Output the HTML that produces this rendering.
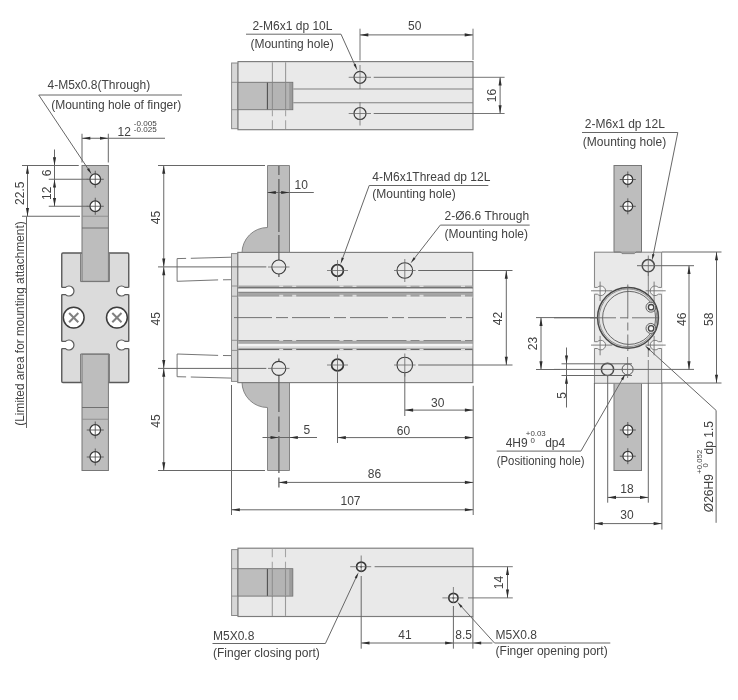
<!DOCTYPE html>
<html><head><meta charset="utf-8"><title>Dimensions</title>
<style>
html,body{margin:0;padding:0;background:#ffffff;}
body{width:738px;height:700px;overflow:hidden;font-family:"Liberation Sans",sans-serif;}
svg{display:block;filter:grayscale(1) blur(0.35px);}
svg text{font-family:"Liberation Sans",sans-serif;}
</style></head><body>
<svg width="738" height="700" viewBox="0 0 738 700">
<rect x="0" y="0" width="738" height="700" fill="#ffffff"/>
<rect x="231.6" y="63.0" width="6.40" height="65.70" fill="#d6d7d8" stroke="#8a8a8a" stroke-width="1.0"/>
<rect x="238" y="61.6" width="235.00" height="68.10" fill="#e8e9ea" stroke="#7c7c7c" stroke-width="1.15"/>
<line x1="231.6" y1="82.3" x2="238" y2="82.3" stroke="#8a8a8a" stroke-width="0.9" />
<line x1="231.6" y1="109.7" x2="238" y2="109.7" stroke="#8a8a8a" stroke-width="0.9" />
<line x1="272.4" y1="62.2" x2="272.4" y2="82.3" stroke="#9a9a9a" stroke-width="1.1" />
<line x1="272.4" y1="110.3" x2="272.4" y2="116.2" stroke="#a4a4a4" stroke-width="1.1" />
<line x1="272.4" y1="120.2" x2="272.4" y2="129.1" stroke="#a4a4a4" stroke-width="1.1" />
<line x1="285.6" y1="62.2" x2="285.6" y2="82.3" stroke="#9a9a9a" stroke-width="1.1" />
<line x1="285.6" y1="110.3" x2="285.6" y2="116.2" stroke="#a4a4a4" stroke-width="1.1" />
<line x1="285.6" y1="120.2" x2="285.6" y2="129.1" stroke="#a4a4a4" stroke-width="1.1" />
<rect x="238" y="82.3" width="54.8" height="27.40" fill="#bcbdbf"/>
<rect x="267.4" y="82.8" width="25" height="26.40" fill="#b3b4b5"/>
<rect x="289.2" y="82.8" width="3.2" height="26.40" fill="#9c9c9c"/>
<line x1="267.4" y1="82.3" x2="267.4" y2="109.7" stroke="#505050" stroke-width="1.1" />
<line x1="272.4" y1="82.89999999999999" x2="272.4" y2="109.10000000000001" stroke="#8e8e8e" stroke-width="1.1" />
<line x1="285.6" y1="82.89999999999999" x2="285.6" y2="109.10000000000001" stroke="#8e8e8e" stroke-width="1.1" />
<rect x="238" y="82.3" width="54.8" height="27.40" fill="none" stroke="#727272" stroke-width="0.9"/>
<line x1="293.3" y1="89" x2="473" y2="89" stroke="#808080" stroke-width="1.1" />
<line x1="293.3" y1="102.8" x2="473" y2="102.8" stroke="#808080" stroke-width="1.1" />
<circle cx="360" cy="77.3" r="6" fill="#e8e9ea" stroke="#3c3c3c" stroke-width="1.2"/>
<line x1="348.7" y1="77.3" x2="371" y2="77.3" stroke="#676767" stroke-width="0.8" />
<line x1="373.7" y1="77.3" x2="504.6" y2="77.3" stroke="#676767" stroke-width="0.9" />
<circle cx="360" cy="113.5" r="6" fill="#e8e9ea" stroke="#3c3c3c" stroke-width="1.2"/>
<line x1="348.7" y1="113.5" x2="371" y2="113.5" stroke="#676767" stroke-width="0.8" />
<line x1="373.7" y1="113.5" x2="504.6" y2="113.5" stroke="#676767" stroke-width="0.9" />
<line x1="360" y1="102" x2="360" y2="125.5" stroke="#676767" stroke-width="0.8" />
<line x1="360" y1="28.7" x2="360" y2="60.5" stroke="#676767" stroke-width="0.9" />
<line x1="360" y1="65" x2="360" y2="89" stroke="#676767" stroke-width="0.8" />
<line x1="473" y1="28.7" x2="473" y2="60" stroke="#676767" stroke-width="0.9" />
<line x1="360" y1="34.9" x2="473" y2="34.9" stroke="#676767" stroke-width="1.0" />
<polygon points="360.00,34.90 368.30,33.35 368.30,36.45" fill="#2e2e2e"/>
<polygon points="473.00,34.90 464.70,36.45 464.70,33.35" fill="#2e2e2e"/>
<text x="414.8" y="30" font-size="12" text-anchor="middle" fill="#424242" >50</text>
<line x1="500.1" y1="77.3" x2="500.1" y2="113.5" stroke="#676767" stroke-width="1.0" />
<polygon points="500.10,77.30 501.65,85.60 498.55,85.60" fill="#2e2e2e"/>
<polygon points="500.10,113.50 498.55,105.20 501.65,105.20" fill="#2e2e2e"/>
<text transform="translate(495.9,95.5) rotate(-90)" font-size="12" text-anchor="middle" fill="#424242" >16</text>
<text x="252.4" y="30" font-size="12" text-anchor="start" fill="#424242" >2-M6x1 dp 10L</text>
<text x="250.4" y="47.6" font-size="12" text-anchor="start" fill="#424242" >(Mounting hole)</text>
<polyline points="246,34.2 341,34.2 355.6,66.5" fill="none" stroke="#676767" stroke-width="1.0"/>
<polygon points="357.30,70.20 353.50,64.79 355.68,63.79" fill="#2e2e2e"/>
<rect x="231.6" y="549.6" width="6.40" height="65.90" fill="#d6d7d8" stroke="#8a8a8a" stroke-width="1.0"/>
<rect x="238" y="548.2" width="235.00" height="68.30" fill="#e8e9ea" stroke="#7c7c7c" stroke-width="1.15"/>
<line x1="231.6" y1="568.7" x2="238" y2="568.7" stroke="#8a8a8a" stroke-width="0.9" />
<line x1="231.6" y1="596.1" x2="238" y2="596.1" stroke="#8a8a8a" stroke-width="0.9" />
<line x1="272.3" y1="596.1" x2="272.3" y2="615.9" stroke="#9a9a9a" stroke-width="1.1" />
<line x1="272.3" y1="548.8000000000001" x2="272.3" y2="557.2" stroke="#a4a4a4" stroke-width="1.1" />
<line x1="272.3" y1="561.7" x2="272.3" y2="568.1" stroke="#a4a4a4" stroke-width="1.1" />
<line x1="285.5" y1="596.1" x2="285.5" y2="615.9" stroke="#9a9a9a" stroke-width="1.1" />
<line x1="285.5" y1="548.8000000000001" x2="285.5" y2="557.2" stroke="#a4a4a4" stroke-width="1.1" />
<line x1="285.5" y1="561.7" x2="285.5" y2="568.1" stroke="#a4a4a4" stroke-width="1.1" />
<rect x="238" y="568.7" width="54.8" height="27.40" fill="#bcbdbf"/>
<rect x="267.4" y="569.2" width="25" height="26.40" fill="#b3b4b5"/>
<rect x="289.2" y="569.2" width="3.2" height="26.40" fill="#9c9c9c"/>
<line x1="267.4" y1="568.7" x2="267.4" y2="596.1" stroke="#505050" stroke-width="1.1" />
<line x1="272.3" y1="569.3000000000001" x2="272.3" y2="595.5" stroke="#8e8e8e" stroke-width="1.1" />
<line x1="285.5" y1="569.3000000000001" x2="285.5" y2="595.5" stroke="#8e8e8e" stroke-width="1.1" />
<rect x="238" y="568.7" width="54.8" height="27.40" fill="none" stroke="#727272" stroke-width="0.9"/>
<circle cx="361.2" cy="566.7" r="4.6" fill="#f4f4f4" stroke="#333" stroke-width="1.7"/>
<circle cx="361.2" cy="566.7" r="1.0" fill="#333" stroke="none" stroke-width="0"/>
<line x1="350.2" y1="566.7" x2="371.2" y2="566.7" stroke="#676767" stroke-width="0.8" />
<circle cx="453.4" cy="597.9" r="4.6" fill="#f4f4f4" stroke="#333" stroke-width="1.7"/>
<circle cx="453.4" cy="597.9" r="1.0" fill="#333" stroke="none" stroke-width="0"/>
<line x1="442.4" y1="597.9" x2="463.4" y2="597.9" stroke="#676767" stroke-width="0.8" />
<line x1="361.2" y1="555.5" x2="361.2" y2="572" stroke="#676767" stroke-width="0.8" />
<line x1="453.4" y1="587" x2="453.4" y2="603" stroke="#676767" stroke-width="0.8" />
<line x1="374.6" y1="566.7" x2="512.8" y2="566.7" stroke="#676767" stroke-width="0.9" />
<line x1="468" y1="597.9" x2="512.8" y2="597.9" stroke="#676767" stroke-width="0.9" />
<line x1="361.2" y1="576" x2="361.2" y2="648.7" stroke="#676767" stroke-width="1.0" />
<line x1="453.4" y1="606" x2="453.4" y2="648.7" stroke="#676767" stroke-width="1.0" />
<line x1="472.9" y1="617" x2="472.9" y2="648.7" stroke="#676767" stroke-width="1.0" />
<line x1="361.2" y1="643" x2="453.4" y2="643" stroke="#676767" stroke-width="1.0" />
<polygon points="361.20,643.00 369.50,641.45 369.50,644.55" fill="#2e2e2e"/>
<polygon points="453.40,643.00 445.10,644.55 445.10,641.45" fill="#2e2e2e"/>
<line x1="453.4" y1="643" x2="492.4" y2="643" stroke="#676767" stroke-width="1.0" />
<polygon points="472.90,643.00 481.20,641.45 481.20,644.55" fill="#2e2e2e"/>
<text x="405" y="638.9" font-size="12" text-anchor="middle" fill="#424242" >41</text>
<text x="463.6" y="638.9" font-size="12" text-anchor="middle" fill="#424242" >8.5</text>
<line x1="507.5" y1="566.7" x2="507.5" y2="597.9" stroke="#676767" stroke-width="1.0" />
<polygon points="507.50,566.70 509.05,575.00 505.95,575.00" fill="#2e2e2e"/>
<polygon points="507.50,597.90 505.95,589.60 509.05,589.60" fill="#2e2e2e"/>
<text transform="translate(503,582.6) rotate(-90)" font-size="12" text-anchor="middle" fill="#424242" >14</text>
<text x="213" y="639.7" font-size="12" text-anchor="start" fill="#424242" >M5X0.8</text>
<text x="213" y="657.2" font-size="12" text-anchor="start" fill="#424242" >(Finger closing port)</text>
<polyline points="212.5,643.5 325.4,643.5 357,575.5" fill="none" stroke="#676767" stroke-width="1.0"/>
<polygon points="358.60,572.20 356.84,578.57 354.68,577.53" fill="#2e2e2e"/>
<text x="495.6" y="639.1" font-size="12" text-anchor="start" fill="#424242" >M5X0.8</text>
<text x="495.6" y="655" font-size="12" text-anchor="start" fill="#424242" >(Finger opening port)</text>
<polyline points="610.3,643 494.5,643 460,605" fill="none" stroke="#676767" stroke-width="1.0"/>
<polygon points="457.40,602.00 462.56,606.13 460.75,607.70" fill="#2e2e2e"/>
<rect x="61.75" y="253" width="67" height="129.5" rx="1.2" fill="#d9dbdc" stroke="#5a5a5a" stroke-width="1.4"/>
<path d="M60.5,287.4 L65.5,287.4 A5,5 0 1 1 65.5,294.6 L60.5,294.6 Z" fill="#ffffff"/>
<path d="M61.75,287.4 L65.5,287.4 A5,5 0 1 1 65.5,294.6 L61.75,294.6" fill="none" stroke="#5a5a5a" stroke-width="1.2"/>
<path d="M130,287.4 L125,287.4 A5,5 0 1 0 125,294.6 L130,294.6 Z" fill="#ffffff"/>
<path d="M128.75,287.4 L125,287.4 A5,5 0 1 0 125,294.6 L128.75,294.6" fill="none" stroke="#5a5a5a" stroke-width="1.2"/>
<path d="M60.5,341.4 L65.5,341.4 A5,5 0 1 1 65.5,348.6 L60.5,348.6 Z" fill="#ffffff"/>
<path d="M61.75,341.4 L65.5,341.4 A5,5 0 1 1 65.5,348.6 L61.75,348.6" fill="none" stroke="#5a5a5a" stroke-width="1.2"/>
<path d="M130,341.4 L125,341.4 A5,5 0 1 0 125,348.6 L130,348.6 Z" fill="#ffffff"/>
<path d="M128.75,341.4 L125,341.4 A5,5 0 1 0 125,348.6 L128.75,348.6" fill="none" stroke="#5a5a5a" stroke-width="1.2"/>
<rect x="82" y="165.5" width="26.40" height="115.80" fill="#bcbdbf" stroke="#777" stroke-width="1"/>
<line x1="82" y1="216.25" x2="108.4" y2="216.25" stroke="#8c8c8c" stroke-width="0.9" />
<line x1="82" y1="228" x2="108.4" y2="228" stroke="#686868" stroke-width="0.9" />
<rect x="82" y="354.2" width="26.40" height="116.30" fill="#bcbdbf" stroke="#777" stroke-width="1"/>
<line x1="82" y1="407.5" x2="108.4" y2="407.5" stroke="#686868" stroke-width="0.9" />
<line x1="82" y1="419.25" x2="108.4" y2="419.25" stroke="#8c8c8c" stroke-width="0.9" />
<polyline points="80.6,253 80.6,281.6 109.4,281.6 109.4,253" fill="none" stroke="#777" stroke-width="1"/>
<polyline points="80.6,382.5 80.6,354 109.4,354 109.4,382.5" fill="none" stroke="#777" stroke-width="1"/>
<circle cx="73.7" cy="317.6" r="10.4" fill="#ffffff" stroke="#3c3c3c" stroke-width="1.5"/>
<line x1="69.10000000000001" y1="313.0" x2="78.3" y2="322.20000000000005" stroke="#808080" stroke-width="2.0" />
<line x1="69.10000000000001" y1="322.20000000000005" x2="78.3" y2="313.0" stroke="#808080" stroke-width="2.0" />
<circle cx="116.9" cy="317.6" r="10.4" fill="#ffffff" stroke="#3c3c3c" stroke-width="1.5"/>
<line x1="112.30000000000001" y1="313.0" x2="121.5" y2="322.20000000000005" stroke="#808080" stroke-width="2.0" />
<line x1="112.30000000000001" y1="322.20000000000005" x2="121.5" y2="313.0" stroke="#808080" stroke-width="2.0" />
<circle cx="95.25" cy="179.25" r="5.3" fill="#ffffff" stroke="#333" stroke-width="1.2"/>
<line x1="86.75" y1="179.25" x2="103.75" y2="179.25" stroke="#444" stroke-width="0.8" />
<line x1="95.25" y1="170.75" x2="95.25" y2="187.75" stroke="#444" stroke-width="0.8" />
<circle cx="95.25" cy="206.25" r="5.3" fill="#ffffff" stroke="#333" stroke-width="1.2"/>
<line x1="86.75" y1="206.25" x2="103.75" y2="206.25" stroke="#444" stroke-width="0.8" />
<line x1="95.25" y1="197.75" x2="95.25" y2="214.75" stroke="#444" stroke-width="0.8" />
<circle cx="95.25" cy="430" r="5.3" fill="#ffffff" stroke="#333" stroke-width="1.2"/>
<line x1="86.75" y1="430" x2="103.75" y2="430" stroke="#444" stroke-width="0.8" />
<line x1="95.25" y1="421.5" x2="95.25" y2="438.5" stroke="#444" stroke-width="0.8" />
<circle cx="95.25" cy="457" r="5.3" fill="#ffffff" stroke="#333" stroke-width="1.2"/>
<line x1="86.75" y1="457" x2="103.75" y2="457" stroke="#444" stroke-width="0.8" />
<line x1="95.25" y1="448.5" x2="95.25" y2="465.5" stroke="#444" stroke-width="0.8" />
<text x="47.5" y="88.8" font-size="12" text-anchor="start" fill="#424242" >4-M5x0.8(Through)</text>
<text x="51.2" y="108.8" font-size="12" text-anchor="start" fill="#424242" >(Mounting hole of finger)</text>
<polyline points="182,95 38.75,95 89.5,171" fill="none" stroke="#676767" stroke-width="1.0"/>
<polygon points="91.60,174.20 87.03,169.42 89.04,168.11" fill="#2e2e2e"/>
<line x1="82" y1="133.75" x2="82" y2="162.5" stroke="#676767" stroke-width="1.0" />
<line x1="108.3" y1="133.75" x2="108.3" y2="162.5" stroke="#676767" stroke-width="1.0" />
<line x1="82" y1="138.25" x2="165" y2="138.25" stroke="#676767" stroke-width="1.0" />
<polygon points="82.00,138.25 90.30,136.70 90.30,139.80" fill="#2e2e2e"/>
<polygon points="108.30,138.25 100.00,139.80 100.00,136.70" fill="#2e2e2e"/>
<text x="117.5" y="136.3" font-size="12" text-anchor="start" fill="#424242" >12</text>
<text x="133.8" y="125.6" font-size="8.1" text-anchor="start" fill="#424242" >-0.005</text>
<text x="133.8" y="131.9" font-size="8.1" text-anchor="start" fill="#424242" >-0.025</text>
<line x1="22" y1="165.5" x2="78.75" y2="165.5" stroke="#676767" stroke-width="1.0" />
<line x1="22" y1="216.25" x2="80" y2="216.25" stroke="#676767" stroke-width="1.0" />
<line x1="27.5" y1="165.5" x2="27.5" y2="216.25" stroke="#676767" stroke-width="1.0" />
<polygon points="27.50,165.50 29.05,173.80 25.95,173.80" fill="#2e2e2e"/>
<polygon points="27.50,216.25 25.95,207.95 29.05,207.95" fill="#2e2e2e"/>
<text transform="translate(24.3,193.3) rotate(-90)" font-size="12" text-anchor="middle" fill="#424242" >22.5</text>
<line x1="54.5" y1="149.5" x2="54.5" y2="206.25" stroke="#676767" stroke-width="1.0" />
<polygon points="54.50,165.50 52.95,157.20 56.05,157.20" fill="#2e2e2e"/>
<polygon points="54.50,179.25 56.05,187.55 52.95,187.55" fill="#2e2e2e"/>
<polygon points="54.50,206.25 52.95,197.95 56.05,197.95" fill="#2e2e2e"/>
<line x1="48.75" y1="179.25" x2="87.5" y2="179.25" stroke="#676767" stroke-width="1.0" />
<line x1="48.75" y1="206.25" x2="87.5" y2="206.25" stroke="#676767" stroke-width="1.0" />
<text transform="translate(51,173) rotate(-90)" font-size="12" text-anchor="middle" fill="#424242" >6</text>
<text transform="translate(51,193.3) rotate(-90)" font-size="12" text-anchor="middle" fill="#424242" >12</text>
<text transform="translate(23.6,323.5) rotate(-90)" font-size="12" text-anchor="middle" fill="#424242" textLength="204.4" lengthAdjust="spacingAndGlyphs">(Limited area for mounting attachment)</text>
<line x1="26.5" y1="216.5" x2="26.5" y2="428" stroke="#676767" stroke-width="1.0" />
<line x1="158" y1="165.5" x2="265" y2="165.5" stroke="#676767" stroke-width="1.0" />
<line x1="158" y1="470.5" x2="265" y2="470.5" stroke="#676767" stroke-width="1.0" />
<line x1="163.75" y1="165.5" x2="163.75" y2="470.5" stroke="#676767" stroke-width="1.0" />
<polygon points="163.75,165.50 165.30,173.80 162.20,173.80" fill="#2e2e2e"/>
<polygon points="163.75,266.90 162.20,258.60 165.30,258.60" fill="#2e2e2e"/>
<polygon points="163.75,266.90 165.30,275.20 162.20,275.20" fill="#2e2e2e"/>
<polygon points="163.75,368.40 162.20,360.10 165.30,360.10" fill="#2e2e2e"/>
<polygon points="163.75,368.40 165.30,376.70 162.20,376.70" fill="#2e2e2e"/>
<polygon points="163.75,470.50 162.20,462.20 165.30,462.20" fill="#2e2e2e"/>
<text transform="translate(160,217.5) rotate(-90)" font-size="12" text-anchor="middle" fill="#424242" >45</text>
<text transform="translate(160,318.8) rotate(-90)" font-size="12" text-anchor="middle" fill="#424242" >45</text>
<text transform="translate(160,421) rotate(-90)" font-size="12" text-anchor="middle" fill="#424242" >45</text>
<path d="M267.5,165.5 H289.5 V253 H242 A25.5,25.5 0 0 1 267.5,227.5 Z" fill="#bcbdbf" stroke="#858585" stroke-width="1"/>
<path d="M242,382 A25.5,25.5 0 0 0 267.5,407.5 V470.5 H289.5 V382 Z" fill="#bcbdbf" stroke="#858585" stroke-width="1"/>
<polyline points="186.1,258.40 177.1,258.60 177.1,281.30 218.1,279.90" fill="none" stroke="#666" stroke-width="0.9"/>
<line x1="190.8" y1="258.3" x2="231.3" y2="257.2" stroke="#666" stroke-width="0.9" />
<line x1="223" y1="279.8" x2="231.3" y2="279.7" stroke="#666" stroke-width="0.9" />
<polyline points="186.1,376.90 177.1,376.70 177.1,354.00 218.1,355.40" fill="none" stroke="#666" stroke-width="0.9"/>
<line x1="190.8" y1="377.0" x2="231.3" y2="378.1" stroke="#666" stroke-width="0.9" />
<line x1="223" y1="355.5" x2="231.3" y2="355.6" stroke="#666" stroke-width="0.9" />
<rect x="231.5" y="253.6" width="6.30" height="127.80" fill="#d6d7d8" stroke="#8a8a8a" stroke-width="1.0"/>
<rect x="237.8" y="252.4" width="235.00" height="130.20" fill="#e8e9ea" stroke="#7c7c7c" stroke-width="1.15"/>
<line x1="231.5" y1="286" x2="237.8" y2="286" stroke="#8a8a8a" stroke-width="0.9" />
<line x1="231.5" y1="296.2" x2="237.8" y2="296.2" stroke="#8a8a8a" stroke-width="0.9" />
<line x1="231.5" y1="340.3" x2="237.8" y2="340.3" stroke="#8a8a8a" stroke-width="0.9" />
<line x1="231.5" y1="350.4" x2="237.8" y2="350.4" stroke="#8a8a8a" stroke-width="0.9" />
<rect x="238.3" y="285.5" width="234.2" height="1.70" fill="#a9a9a9"/>
<rect x="279.2" y="285.4" width="4" height="1.90" fill="#dcdcdc"/>
<rect x="292.2" y="285.4" width="4" height="1.90" fill="#dcdcdc"/>
<rect x="339.5" y="285.4" width="4" height="1.90" fill="#dcdcdc"/>
<rect x="352.5" y="285.4" width="4" height="1.90" fill="#dcdcdc"/>
<rect x="406.5" y="285.4" width="4" height="1.90" fill="#dcdcdc"/>
<rect x="419.5" y="285.4" width="4" height="1.90" fill="#dcdcdc"/>
<rect x="461" y="285.4" width="4" height="1.90" fill="#dcdcdc"/>
<rect x="238.3" y="287.2" width="234.2" height="1.40" fill="#5a5a5a"/>
<rect x="238.3" y="288.6" width="234.2" height="3.20" fill="#f1f1f1"/>
<rect x="238.3" y="291.8" width="234.2" height="1.10" fill="#7a7a7a"/>
<rect x="238.3" y="292.9" width="234.2" height="3.80" fill="#a6a6a6"/>
<rect x="238.3" y="294.9" width="234.2" height="1.80" fill="#a0a0a0"/>
<rect x="279.2" y="294.79999999999995" width="4" height="2.00" fill="#dcdcdc"/>
<rect x="292.2" y="294.79999999999995" width="4" height="2.00" fill="#dcdcdc"/>
<rect x="339.5" y="294.79999999999995" width="4" height="2.00" fill="#dcdcdc"/>
<rect x="352.5" y="294.79999999999995" width="4" height="2.00" fill="#dcdcdc"/>
<rect x="406.5" y="294.79999999999995" width="4" height="2.00" fill="#dcdcdc"/>
<rect x="419.5" y="294.79999999999995" width="4" height="2.00" fill="#dcdcdc"/>
<rect x="461" y="294.79999999999995" width="4" height="2.00" fill="#dcdcdc"/>
<rect x="238.3" y="296.7" width="234.2" height="0.90" fill="#efefef"/>
<rect x="238.3" y="340.0" width="234.2" height="0.90" fill="#777"/>
<rect x="279.2" y="339.9" width="4" height="1.10" fill="#dcdcdc"/>
<rect x="292.2" y="339.9" width="4" height="1.10" fill="#dcdcdc"/>
<rect x="339.5" y="339.9" width="4" height="1.10" fill="#dcdcdc"/>
<rect x="352.5" y="339.9" width="4" height="1.10" fill="#dcdcdc"/>
<rect x="406.5" y="339.9" width="4" height="1.10" fill="#dcdcdc"/>
<rect x="419.5" y="339.9" width="4" height="1.10" fill="#dcdcdc"/>
<rect x="461" y="339.9" width="4" height="1.10" fill="#dcdcdc"/>
<rect x="238.3" y="340.9" width="234.2" height="3.00" fill="#a8a8a8"/>
<rect x="238.3" y="343.9" width="234.2" height="2.30" fill="#f3f3f3"/>
<rect x="238.3" y="346.2" width="234.2" height="1.70" fill="#dedede"/>
<rect x="238.3" y="347.9" width="234.2" height="1.10" fill="#aaaaaa"/>
<rect x="238.3" y="349.0" width="234.2" height="1.10" fill="#666"/>
<rect x="279.2" y="348.9" width="4" height="1.30" fill="#dcdcdc"/>
<rect x="292.2" y="348.9" width="4" height="1.30" fill="#dcdcdc"/>
<rect x="339.5" y="348.9" width="4" height="1.30" fill="#dcdcdc"/>
<rect x="352.5" y="348.9" width="4" height="1.30" fill="#dcdcdc"/>
<rect x="406.5" y="348.9" width="4" height="1.30" fill="#dcdcdc"/>
<rect x="419.5" y="348.9" width="4" height="1.30" fill="#dcdcdc"/>
<rect x="461" y="348.9" width="4" height="1.30" fill="#dcdcdc"/>
<line x1="234" y1="317.6" x2="473" y2="317.6" stroke="#676767" stroke-width="0.9" stroke-dasharray="38 4 12 4" />
<line x1="278.9" y1="166" x2="278.9" y2="175" stroke="#606060" stroke-width="1.3" />
<line x1="278.9" y1="179" x2="278.9" y2="232" stroke="#606060" stroke-width="1.3" />
<line x1="278.9" y1="235" x2="278.9" y2="277" stroke="#606060" stroke-width="1.3" />
<line x1="278.9" y1="358.5" x2="278.9" y2="412" stroke="#606060" stroke-width="1.3" />
<line x1="278.9" y1="416.5" x2="278.9" y2="432" stroke="#606060" stroke-width="1.3" />
<line x1="278.9" y1="436" x2="278.9" y2="473" stroke="#606060" stroke-width="1.3" />
<line x1="278.9" y1="477.5" x2="278.9" y2="487.5" stroke="#606060" stroke-width="1.3" />
<line x1="158" y1="266.9" x2="266.3" y2="266.9" stroke="#676767" stroke-width="1.0" />
<line x1="158" y1="368.4" x2="266.3" y2="368.4" stroke="#676767" stroke-width="1.0" />
<circle cx="278.8" cy="267" r="7" fill="#e8e9ea" stroke="#3c3c3c" stroke-width="1.1"/>
<line x1="268" y1="267" x2="289.5" y2="267" stroke="#676767" stroke-width="0.8" />
<circle cx="278.8" cy="368.4" r="7" fill="#e8e9ea" stroke="#3c3c3c" stroke-width="1.1"/>
<line x1="268" y1="368.4" x2="289.5" y2="368.4" stroke="#676767" stroke-width="0.8" />
<circle cx="337.5" cy="270.5" r="5.9" fill="#e8e9ea" stroke="#333" stroke-width="1.7"/>
<line x1="327.0" y1="270.5" x2="348.0" y2="270.5" stroke="#676767" stroke-width="0.8" />
<line x1="337.5" y1="260.0" x2="337.5" y2="281.0" stroke="#676767" stroke-width="0.8" />
<circle cx="404.8" cy="270.5" r="7.8" fill="#e8e9ea" stroke="#3c3c3c" stroke-width="1.1"/>
<line x1="394.0" y1="270.5" x2="415.6" y2="270.5" stroke="#676767" stroke-width="0.8" />
<line x1="404.8" y1="259.0" x2="404.8" y2="282.0" stroke="#676767" stroke-width="0.8" />
<line x1="418.2" y1="270.5" x2="512.5" y2="270.5" stroke="#676767" stroke-width="1.0" />
<circle cx="337.5" cy="365" r="5.9" fill="#e8e9ea" stroke="#333" stroke-width="1.7"/>
<line x1="327.0" y1="365" x2="348.0" y2="365" stroke="#676767" stroke-width="0.8" />
<line x1="337.5" y1="354.5" x2="337.5" y2="375.5" stroke="#676767" stroke-width="0.8" />
<circle cx="404.8" cy="365" r="7.8" fill="#e8e9ea" stroke="#3c3c3c" stroke-width="1.1"/>
<line x1="394.0" y1="365" x2="415.6" y2="365" stroke="#676767" stroke-width="0.8" />
<line x1="404.8" y1="353.5" x2="404.8" y2="376.5" stroke="#676767" stroke-width="0.8" />
<line x1="418.2" y1="365" x2="512.5" y2="365" stroke="#676767" stroke-width="1.0" />
<line x1="267.5" y1="192.5" x2="313.8" y2="192.5" stroke="#676767" stroke-width="1.0" />
<polygon points="267.50,192.50 275.80,190.95 275.80,194.05" fill="#2e2e2e"/>
<polygon points="289.50,192.50 281.20,194.05 281.20,190.95" fill="#2e2e2e"/>
<text x="294.5" y="188.8" font-size="12" text-anchor="start" fill="#424242" >10</text>
<line x1="262.5" y1="437.5" x2="317" y2="437.5" stroke="#676767" stroke-width="1.0" />
<polygon points="278.80,437.50 270.50,439.05 270.50,435.95" fill="#2e2e2e"/>
<polygon points="289.50,437.50 297.80,435.95 297.80,439.05" fill="#2e2e2e"/>
<text x="303.5" y="433.8" font-size="12" text-anchor="start" fill="#424242" >5</text>
<line x1="231.5" y1="385" x2="231.5" y2="515" stroke="#676767" stroke-width="1.0" />
<line x1="473.2" y1="385.8" x2="473.2" y2="515" stroke="#676767" stroke-width="1.0" />
<line x1="404.8" y1="372.5" x2="404.8" y2="416" stroke="#676767" stroke-width="1.0" />
<line x1="337.5" y1="372.5" x2="337.5" y2="443" stroke="#676767" stroke-width="1.0" />
<line x1="404.8" y1="410.1" x2="473.2" y2="410.1" stroke="#676767" stroke-width="1.0" />
<polygon points="404.80,410.10 413.10,408.55 413.10,411.65" fill="#2e2e2e"/>
<polygon points="473.20,410.10 464.90,411.65 464.90,408.55" fill="#2e2e2e"/>
<text x="437.8" y="407" font-size="12" text-anchor="middle" fill="#424242" >30</text>
<line x1="337.5" y1="437.6" x2="473.2" y2="437.6" stroke="#676767" stroke-width="1.0" />
<polygon points="337.50,437.60 345.80,436.05 345.80,439.15" fill="#2e2e2e"/>
<polygon points="473.20,437.60 464.90,439.15 464.90,436.05" fill="#2e2e2e"/>
<text x="403.5" y="434.8" font-size="12" text-anchor="middle" fill="#424242" >60</text>
<line x1="278.8" y1="482.4" x2="473.2" y2="482.4" stroke="#676767" stroke-width="1.0" />
<polygon points="278.80,482.40 287.10,480.85 287.10,483.95" fill="#2e2e2e"/>
<polygon points="473.20,482.40 464.90,483.95 464.90,480.85" fill="#2e2e2e"/>
<text x="374.5" y="477.8" font-size="12" text-anchor="middle" fill="#424242" >86</text>
<line x1="231.5" y1="509.8" x2="473.2" y2="509.8" stroke="#676767" stroke-width="1.0" />
<polygon points="231.50,509.80 239.80,508.25 239.80,511.35" fill="#2e2e2e"/>
<polygon points="473.20,509.80 464.90,511.35 464.90,508.25" fill="#2e2e2e"/>
<text x="350.5" y="504.9" font-size="12" text-anchor="middle" fill="#424242" >107</text>
<line x1="506.3" y1="270.5" x2="506.3" y2="365" stroke="#676767" stroke-width="1.0" />
<polygon points="506.30,270.50 507.85,278.80 504.75,278.80" fill="#2e2e2e"/>
<polygon points="506.30,365.00 504.75,356.70 507.85,356.70" fill="#2e2e2e"/>
<text transform="translate(502,318.5) rotate(-90)" font-size="12" text-anchor="middle" fill="#424242" >42</text>
<text x="372.3" y="181.2" font-size="12" text-anchor="start" fill="#424242" >4-M6x1Thread dp 12L</text>
<text x="372.3" y="198.4" font-size="12" text-anchor="start" fill="#424242" >(Mounting hole)</text>
<polyline points="488.3,185.5 369.2,185.5 342.2,259.5" fill="none" stroke="#676767" stroke-width="1.0"/>
<polygon points="340.60,264.00 341.65,257.47 343.91,258.28" fill="#2e2e2e"/>
<text x="444.6" y="220.1" font-size="12" text-anchor="start" fill="#424242" >2-Ø6.6 Through</text>
<text x="444.6" y="238" font-size="12" text-anchor="start" fill="#424242" >(Mounting hole)</text>
<polyline points="529.7,225.1 440.3,225.1 413.5,259.5" fill="none" stroke="#676767" stroke-width="1.0"/>
<polygon points="410.60,263.20 413.67,257.34 415.55,258.82" fill="#2e2e2e"/>
<rect x="614" y="165.5" width="27.50" height="87.50" fill="#bcbdbf" stroke="#777" stroke-width="1"/>
<rect x="614" y="382" width="27.50" height="88.50" fill="#bcbdbf" stroke="#777" stroke-width="1"/>
<rect x="594.5" y="252.2" width="67.10" height="131.10" fill="#e8e9ea" stroke="#8a8a8a" stroke-width="1.1"/>
<path d="M614,252 L620.5,252 L622,253.6 L634.5,253.6 L636,252 L641.5,252" fill="none" stroke="#777" stroke-width="0.9"/>
<line x1="594.4" y1="383" x2="594.4" y2="529.6" stroke="#676767" stroke-width="1.0" />
<line x1="661.9" y1="383" x2="661.9" y2="529.6" stroke="#676767" stroke-width="1.0" />
<line x1="607.7" y1="376" x2="607.7" y2="502.7" stroke="#676767" stroke-width="1.0" />
<line x1="648.3" y1="383" x2="648.3" y2="502.7" stroke="#676767" stroke-width="1.0" />
<line x1="648.3" y1="272" x2="648.3" y2="383" stroke="#676767" stroke-width="0.8" stroke-dasharray="30 3 8 3" />
<path d="M593.4,287.40000000000003 L597.4,287.40000000000003 A4.8,4.8 0 1 1 597.4,294.2 L593.4,294.2 Z" fill="#f6f6f6"/>
<path d="M594.5,287.40000000000003 L597.4,287.40000000000003 A4.8,4.8 0 1 1 597.4,294.2 L594.5,294.2" fill="none" stroke="#808080" stroke-width="1.0"/>
<line x1="600.1" y1="281.6" x2="600.1" y2="301.0" stroke="#707070" stroke-width="0.9" />
<line x1="591" y1="290.8" x2="612.3" y2="290.8" stroke="#707070" stroke-width="0.9" />
<path d="M662.7,287.40000000000003 L658.4,287.40000000000003 A4.8,4.8 0 1 0 658.4,294.2 L662.7,294.2 Z" fill="#f6f6f6"/>
<path d="M661.6,287.40000000000003 L658.4,287.40000000000003 A4.8,4.8 0 1 0 658.4,294.2 L661.6,294.2" fill="none" stroke="#808080" stroke-width="1.0"/>
<line x1="654.1" y1="281.6" x2="654.1" y2="301.0" stroke="#707070" stroke-width="0.9" />
<line x1="645.6" y1="290.8" x2="665.7" y2="290.8" stroke="#707070" stroke-width="0.9" />
<path d="M593.4,341.70000000000005 L597.4,341.70000000000005 A4.8,4.8 0 1 1 597.4,348.5 L593.4,348.5 Z" fill="#f6f6f6"/>
<path d="M594.5,341.70000000000005 L597.4,341.70000000000005 A4.8,4.8 0 1 1 597.4,348.5 L594.5,348.5" fill="none" stroke="#808080" stroke-width="1.0"/>
<line x1="600.1" y1="335.90000000000003" x2="600.1" y2="355.3" stroke="#707070" stroke-width="0.9" />
<line x1="591" y1="345.1" x2="612.3" y2="345.1" stroke="#707070" stroke-width="0.9" />
<path d="M662.7,341.70000000000005 L658.4,341.70000000000005 A4.8,4.8 0 1 0 658.4,348.5 L662.7,348.5 Z" fill="#f6f6f6"/>
<path d="M661.6,341.70000000000005 L658.4,341.70000000000005 A4.8,4.8 0 1 0 658.4,348.5 L661.6,348.5" fill="none" stroke="#808080" stroke-width="1.0"/>
<line x1="654.1" y1="335.90000000000003" x2="654.1" y2="355.3" stroke="#707070" stroke-width="0.9" />
<line x1="645.6" y1="345.1" x2="665.7" y2="345.1" stroke="#707070" stroke-width="0.9" />
<line x1="554" y1="317.8" x2="597" y2="317.8" stroke="#676767" stroke-width="1.0" />
<circle cx="628.0" cy="317.8" r="30.4" fill="#e3e4e5" stroke="#484848" stroke-width="1.5"/>
<circle cx="628.0" cy="317.8" r="28.9" fill="none" stroke="#7a7a7a" stroke-width="0.8"/>
<circle cx="629.1" cy="317.9" r="26.5" fill="#e8e9ea" stroke="#5a5a5a" stroke-width="0.9"/>
<line x1="590" y1="317.8" x2="661" y2="317.8" stroke="#676767" stroke-width="0.9" stroke-dasharray="26 4 8 4" />
<line x1="627.8" y1="284.5" x2="627.8" y2="351" stroke="#676767" stroke-width="0.9" stroke-dasharray="34 4 8 4" />
<ellipse cx="650.8" cy="307.2" rx="4.8" ry="5.0" fill="#e8e9ea" stroke="#555" stroke-width="0.9"/>
<circle cx="651.1" cy="307.2" r="2.7" fill="#f6f6f6" stroke="#444" stroke-width="1.3"/>
<ellipse cx="650.8" cy="328.4" rx="4.8" ry="5.0" fill="#e8e9ea" stroke="#555" stroke-width="0.9"/>
<circle cx="651.1" cy="328.4" r="2.7" fill="#f6f6f6" stroke="#444" stroke-width="1.3"/>
<circle cx="648.3" cy="265.7" r="6.1" fill="#e8e9ea" stroke="#4a4a4a" stroke-width="1.5"/>
<line x1="637" y1="265.7" x2="694" y2="265.7" stroke="#676767" stroke-width="1.0" />
<line x1="648.3" y1="255.5" x2="648.3" y2="276" stroke="#676767" stroke-width="0.8" />
<circle cx="607.5" cy="369.4" r="6.1" fill="#e8e9ea" stroke="#4a4a4a" stroke-width="1.5"/>
<circle cx="627.6" cy="369.4" r="5.5" fill="#ececec" stroke="#555" stroke-width="1.0"/>
<line x1="554" y1="369.4" x2="694" y2="369.4" stroke="#676767" stroke-width="1.0" />
<line x1="627.6" y1="357" x2="627.6" y2="378" stroke="#676767" stroke-width="0.8" />
<line x1="561.5" y1="363.8" x2="632" y2="363.8" stroke="#676767" stroke-width="1.0" />
<line x1="561.5" y1="375.5" x2="632" y2="375.5" stroke="#676767" stroke-width="1.0" />
<circle cx="627.8" cy="179.5" r="4.9" fill="#ffffff" stroke="#333" stroke-width="1.2"/>
<line x1="619.8" y1="179.5" x2="635.8" y2="179.5" stroke="#444" stroke-width="0.8" />
<line x1="627.8" y1="171.5" x2="627.8" y2="187.5" stroke="#444" stroke-width="0.8" />
<circle cx="627.8" cy="206.3" r="4.9" fill="#ffffff" stroke="#333" stroke-width="1.2"/>
<line x1="619.8" y1="206.3" x2="635.8" y2="206.3" stroke="#444" stroke-width="0.8" />
<line x1="627.8" y1="198.3" x2="627.8" y2="214.3" stroke="#444" stroke-width="0.8" />
<circle cx="627.8" cy="430" r="4.9" fill="#ffffff" stroke="#333" stroke-width="1.2"/>
<line x1="619.8" y1="430" x2="635.8" y2="430" stroke="#444" stroke-width="0.8" />
<line x1="627.8" y1="422" x2="627.8" y2="438" stroke="#444" stroke-width="0.8" />
<circle cx="627.8" cy="456.2" r="4.9" fill="#ffffff" stroke="#333" stroke-width="1.2"/>
<line x1="619.8" y1="456.2" x2="635.8" y2="456.2" stroke="#444" stroke-width="0.8" />
<line x1="627.8" y1="448.2" x2="627.8" y2="464.2" stroke="#444" stroke-width="0.8" />
<line x1="662" y1="252" x2="721.5" y2="252" stroke="#676767" stroke-width="1.0" />
<line x1="662" y1="383" x2="721.5" y2="383" stroke="#676767" stroke-width="1.0" />
<line x1="716.5" y1="252" x2="716.5" y2="383" stroke="#676767" stroke-width="1.0" />
<polygon points="716.50,252.00 718.05,260.30 714.95,260.30" fill="#2e2e2e"/>
<polygon points="716.50,383.00 714.95,374.70 718.05,374.70" fill="#2e2e2e"/>
<text transform="translate(712.5,319.3) rotate(-90)" font-size="12" text-anchor="middle" fill="#424242" >58</text>
<line x1="689" y1="265.8" x2="689" y2="369.5" stroke="#676767" stroke-width="1.0" />
<polygon points="689.00,265.80 690.55,274.10 687.45,274.10" fill="#2e2e2e"/>
<polygon points="689.00,369.50 687.45,361.20 690.55,361.20" fill="#2e2e2e"/>
<text transform="translate(685.5,319.3) rotate(-90)" font-size="12" text-anchor="middle" fill="#424242" >46</text>
<line x1="536" y1="317.6" x2="597" y2="317.6" stroke="#676767" stroke-width="1.0" />
<line x1="541" y1="317.6" x2="541" y2="369.5" stroke="#676767" stroke-width="1.0" />
<polygon points="541.00,317.60 542.55,325.90 539.45,325.90" fill="#2e2e2e"/>
<polygon points="541.00,369.50 539.45,361.20 542.55,361.20" fill="#2e2e2e"/>
<text transform="translate(537,343.5) rotate(-90)" font-size="12" text-anchor="middle" fill="#424242" >23</text>
<line x1="536" y1="369.5" x2="560" y2="369.5" stroke="#676767" stroke-width="1.0" />
<line x1="566.5" y1="347.5" x2="566.5" y2="407.5" stroke="#676767" stroke-width="1.0" />
<polygon points="566.50,363.80 564.95,355.50 568.05,355.50" fill="#2e2e2e"/>
<polygon points="566.50,375.50 568.05,383.80 564.95,383.80" fill="#2e2e2e"/>
<text transform="translate(565.8,395.5) rotate(-90)" font-size="12" text-anchor="middle" fill="#424242" >5</text>
<line x1="607.7" y1="497.4" x2="648.3" y2="497.4" stroke="#676767" stroke-width="1.0" />
<polygon points="607.70,497.40 616.00,495.85 616.00,498.95" fill="#2e2e2e"/>
<polygon points="648.30,497.40 640.00,498.95 640.00,495.85" fill="#2e2e2e"/>
<text x="627" y="492.9" font-size="12" text-anchor="middle" fill="#424242" >18</text>
<line x1="594.4" y1="523.6" x2="661.9" y2="523.6" stroke="#676767" stroke-width="1.0" />
<polygon points="594.40,523.60 602.70,522.05 602.70,525.15" fill="#2e2e2e"/>
<polygon points="661.90,523.60 653.60,525.15 653.60,522.05" fill="#2e2e2e"/>
<text x="627" y="519" font-size="12" text-anchor="middle" fill="#424242" >30</text>
<text x="584.8" y="127.5" font-size="12" text-anchor="start" fill="#424242" >2-M6x1 dp 12L</text>
<text x="582.8" y="145.8" font-size="12" text-anchor="start" fill="#424242" >(Mounting hole)</text>
<polyline points="582,132.5 677.8,132.5 653,256" fill="none" stroke="#676767" stroke-width="1.0"/>
<polygon points="652.00,260.50 652.24,253.89 654.58,254.42" fill="#2e2e2e"/>
<text x="505.7" y="446.6" font-size="12" text-anchor="start" fill="#424242" >4H9</text>
<text x="545.2" y="446.6" font-size="12" text-anchor="start" fill="#424242" >dp4</text>
<text x="525.8" y="435.8" font-size="7.9" text-anchor="start" fill="#424242" >+0.03</text>
<text x="530.6" y="442.7" font-size="7.9" text-anchor="start" fill="#424242" >0</text>
<text x="496.7" y="464.8" font-size="12" text-anchor="start" fill="#424242" textLength="87.9" lengthAdjust="spacingAndGlyphs">(Positioning hole)</text>
<polyline points="496.7,451.1 580.9,451.1 623,378" fill="none" stroke="#676767" stroke-width="1.0"/>
<polygon points="625.30,374.00 623.10,380.23 621.02,379.04" fill="#2e2e2e"/>
<polyline points="648.5,348.8 716.1,410.4 716.1,522.8" fill="none" stroke="#676767" stroke-width="1.0"/>
<polygon points="644.90,345.50 650.55,348.93 648.95,350.72" fill="#2e2e2e"/>
<text transform="translate(712.5,512.2) rotate(-90)" font-size="12" text-anchor="start" fill="#424242" >Ø26H9</text>
<text transform="translate(712.5,454.4) rotate(-90)" font-size="12" text-anchor="start" fill="#424242" >dp 1.5</text>
<text transform="translate(701.9,473.8) rotate(-90)" font-size="7.8" text-anchor="start" fill="#424242" >+0.052</text>
<text transform="translate(708.0,467.4) rotate(-90)" font-size="7.8" text-anchor="start" fill="#424242" >0</text>
</svg>
</body></html>
